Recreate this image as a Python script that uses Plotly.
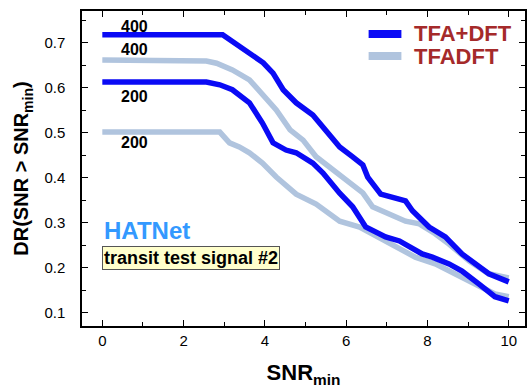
import plotly.graph_objects as go

# TFA+DFT, 400
x_b400 = [0, 2.96, 3.96, 4.2, 4.45, 4.77, 5.18, 5.43, 5.67, 5.84, 6.16, 6.41, 6.53, 6.85, 7.46, 7.63, 8.04, 8.44, 8.85, 9.17, 9.51, 10]
y_b400 = [0.718, 0.718, 0.656, 0.633, 0.596, 0.567, 0.54, 0.513, 0.491, 0.469, 0.447, 0.429, 0.402, 0.364, 0.349, 0.327, 0.291, 0.269, 0.231, 0.209, 0.187, 0.169]
# TFADFT, 400
x_l400 = [0, 2.47, 2.56, 2.81, 3.2, 3.62, 3.96, 4.28, 4.62, 4.94, 5.26, 5.6, 5.92, 6.41, 6.65, 7.07, 7.46, 7.8, 8.19, 8.53, 9.02, 9.51, 10]
y_l400 = [0.662, 0.662, 0.66, 0.655, 0.64, 0.618, 0.584, 0.551, 0.507, 0.484, 0.447, 0.424, 0.402, 0.367, 0.336, 0.32, 0.304, 0.298, 0.276, 0.253, 0.216, 0.187, 0.178]
# TFA+DFT, 200
x_b200 = [0, 2.56, 2.89, 3.2, 3.62, 3.94, 4.2, 4.52, 4.77, 5.18, 5.43, 5.84, 6.16, 6.48, 6.97, 7.31, 7.87, 8.12, 8.53, 8.85, 9.27, 9.66, 10]
y_b200 = [0.613, 0.613, 0.607, 0.596, 0.567, 0.522, 0.478, 0.462, 0.456, 0.433, 0.411, 0.366, 0.336, 0.291, 0.269, 0.26, 0.231, 0.224, 0.209, 0.193, 0.164, 0.136, 0.127]
# TFADFT, 200
x_l200 = [0, 2.89, 3.13, 3.37, 3.62, 3.94, 4.28, 4.62, 4.77, 5.26, 5.84, 6.33, 6.65, 7.21, 7.7, 8.19, 8.68, 9.17, 9.66, 10]
y_l200 = [0.502, 0.502, 0.478, 0.469, 0.456, 0.433, 0.402, 0.373, 0.364, 0.342, 0.304, 0.291, 0.276, 0.247, 0.224, 0.209, 0.187, 0.164, 0.142, 0.136]

series_names = ["TFA+DFT", "TFADFT"]
curve_labels = ["400", "400", "200", "200"]
label_y = [0.737, 0.685, 0.582, 0.479]

BLUE = "#0a0af5"
LIGHT = "#b0c4de"
LEGEND_TEXT = "#a52a2a"
FONT = "Liberation Sans, Arial, sans-serif"
LW = 5.5

fig = go.Figure()
fig.add_trace(go.Scatter(x=x_l400, y=y_l400, mode="lines", line=dict(color=LIGHT, width=LW), name=series_names[1]))
fig.add_trace(go.Scatter(x=x_l200, y=y_l200, mode="lines", line=dict(color=LIGHT, width=LW), name=series_names[1]))
fig.add_trace(go.Scatter(x=x_b400, y=y_b400, mode="lines", line=dict(color=BLUE, width=LW), name=series_names[0]))
fig.add_trace(go.Scatter(x=x_b200, y=y_b200, mode="lines", line=dict(color=BLUE, width=LW), name=series_names[0]))

# compact legend drawn in the plot-area (paper) frame
legend_rows = [(series_names[0], BLUE, 0.927), (series_names[1], LIGHT, 0.857)]
for name, col, yy in legend_rows:
    fig.add_shape(type="line", xref="paper", yref="paper", x0=0.647, x1=0.721, y0=yy, y1=yy,
                  line=dict(color=col, width=8))
    fig.add_annotation(x=0.745, y=yy, xref="paper", yref="paper", xanchor="left", yanchor="middle",
                       text="<b>%s</b>" % name, showarrow=False,
                       font=dict(family=FONT, size=22, color=LEGEND_TEXT))

for lab, yy in zip(curve_labels, label_y):
    fig.add_annotation(x=0.8, y=yy, xref="x", yref="y", text="<b>%s</b>" % lab, showarrow=False,
                       font=dict(family=FONT, size=16, color="black"))

fig.add_annotation(x=-0.02, y=0.284, xref="x", yref="y", xanchor="left", text="<b>HATNet</b>", showarrow=False,
                   font=dict(family=FONT, size=24, color="#3399ff"))
fig.add_annotation(x=0, y=0.222, xref="x", yref="y", xanchor="left", text="<b>transit test signal #2</b>", showarrow=False,
                   font=dict(family=FONT, size=18, color="black"), bgcolor="#ffffcc", bordercolor="#555555",
                   borderwidth=1, borderpad=1)

axis_common = dict(showgrid=False, zeroline=False, showline=True, linecolor="black", linewidth=1.5,
                   mirror="ticks", ticks="inside", ticklen=6, tickcolor="black",
                   tickfont=dict(family=FONT, size=15, color="black"))

fig.update_xaxes(range=[-0.5, 10.4], tickvals=[0, 2, 4, 6, 8, 10],
                 minor=dict(ticks="inside", dtick=1, ticklen=4, tickcolor="black"),
                 title=dict(text="<b>SNR<sub>min</sub></b>", font=dict(family=FONT, size=22, color="black"), standoff=19),
                 **axis_common)
fig.update_yaxes(range=[0.071, 0.771], tickvals=[0.1, 0.2, 0.3, 0.4, 0.5, 0.6, 0.7], tickformat=".1f",
                 minor=dict(ticks="inside", dtick=0.05, ticklen=4, tickcolor="black"),
                 ticklabelstandoff=12,
                 title=dict(text="<b>DR(SNR > SNR<sub>min</sub>)</b>", font=dict(family=FONT, size=20, color="black"), standoff=10),
                 **axis_common)

fig.update_layout(width=528, height=388, margin=dict(l=82, r=1, t=11, b=62),
                  plot_bgcolor="white", paper_bgcolor="white", showlegend=False)

fig.write_html("out.html")
